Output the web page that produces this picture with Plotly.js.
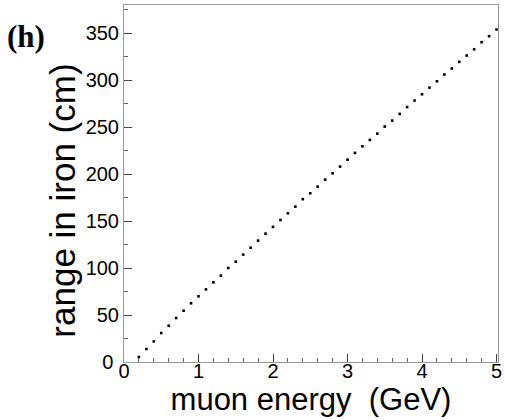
<!DOCTYPE html>
<html>
<head>
<meta charset="utf-8">
<script src="https://cdn.plot.ly/plotly-3.0.1.min.js"></script>
<style>html,body{margin:0;padding:0;background:#fff;}#chart{width:505px;height:420px;}</style>
</head>
<body>
<div id="chart"></div>
<script>
var energyGeV = [0.2,0.3,0.4,0.5,0.6,0.7,0.8,0.9,1.0,1.1,1.2,1.3,1.4,1.5,1.6,1.7,1.8,1.9,2.0,2.1,2.2,2.3,2.4,2.5,2.6,2.7,2.8,2.9,3.0,3.1,3.2,3.3,3.4,3.5,3.6,3.7,3.8,3.9,4.0,4.1,4.2,4.3,4.4,4.5,4.6,4.7,4.8,4.9,5.0];
var rangeCm = [5.3,13.8,21.9,30.8,38.6,46.8,54.6,62.5,69.9,77.3,84.8,91.9,100.1,106.8,114.3,121.7,129.2,136.6,143.8,151.2,158.3,165.4,173.3,179.6,186.7,194.1,200.9,208.0,215.4,222.6,229.6,236.4,243.1,250.6,257.0,264.1,271.3,278.3,285.0,292.1,298.8,306.0,312.4,319.5,326.2,332.9,340.4,346.8,353.9];
var yTickVals = [0,50,100,150,200,250,300,350];
var yTickText = ['0&nbsp;','50','100','150','200','250','300','350'];
var xTickVals = [0,1,2,3,4,5];
var xTickText = ['0','1','2','3','4','5'];

var trace = {
  x: energyGeV, y: rangeCm, mode: 'markers', type: 'scatter',
  marker: {color: '#000', size: 2.6, symbol: 'square'},
  hoverinfo: 'skip'
};
var tickFont = {family: 'Liberation Sans, Arial, sans-serif', size: 20, color: '#000'};
var layout = {
  width: 505, height: 420,
  margin: {l: 124, r: 7, t: 5, b: 58},
  paper_bgcolor: '#fff', plot_bgcolor: '#fff',
  showlegend: false,
  xaxis: {
    range: [0, 5.02], tickvals: xTickVals, ticktext: xTickText,
    ticks: 'inside', ticklen: 8, tickwidth: 1, tickcolor: '#444',
    minor: {dtick: 0.2, ticks: 'inside', ticklen: 4, tickcolor: '#666', showgrid: false},
    showline: true, linecolor: '#999', linewidth: 1, mirror: true,
    showgrid: false, zeroline: false, tickfont: tickFont, ticklabelstandoff: -9,
    title: {text: 'muon energy\u00a0 (GeV)', font: {family: 'Liberation Sans, Arial, sans-serif', size: 31, color: '#000'}, standoff: 5},
    automargin: false
  },
  yaxis: {
    range: [0, 380], tickvals: yTickVals, ticktext: yTickText,
    ticks: 'inside', ticklen: 8, tickwidth: 1, tickcolor: '#444',
    minor: {dtick: 25, ticks: 'inside', ticklen: 4, tickcolor: '#666', showgrid: false},
    showline: true, linecolor: '#999', linewidth: 1, mirror: true,
    showgrid: false, zeroline: false, tickfont: tickFont,
    automargin: false
  },
  annotations: [
    {text: 'range in iron (cm)', xref: 'paper', yref: 'paper', x: -0.163, y: 0.452,
     xanchor: 'center', yanchor: 'middle', textangle: -90, showarrow: false,
     font: {family: 'Liberation Sans, Arial, sans-serif', size: 35, color: '#000'}},
    {text: '<b>(h)</b>', xref: 'paper', yref: 'paper', x: -0.318, y: 0.912,
     xanchor: 'left', yanchor: 'middle', showarrow: false,
     font: {family: 'Liberation Serif, Times New Roman, serif', size: 31, color: '#000'}}
  ]
};
Plotly.newPlot('chart', [trace], layout, {staticPlot: true, displayModeBar: false});
</script>
</body>
</html>
